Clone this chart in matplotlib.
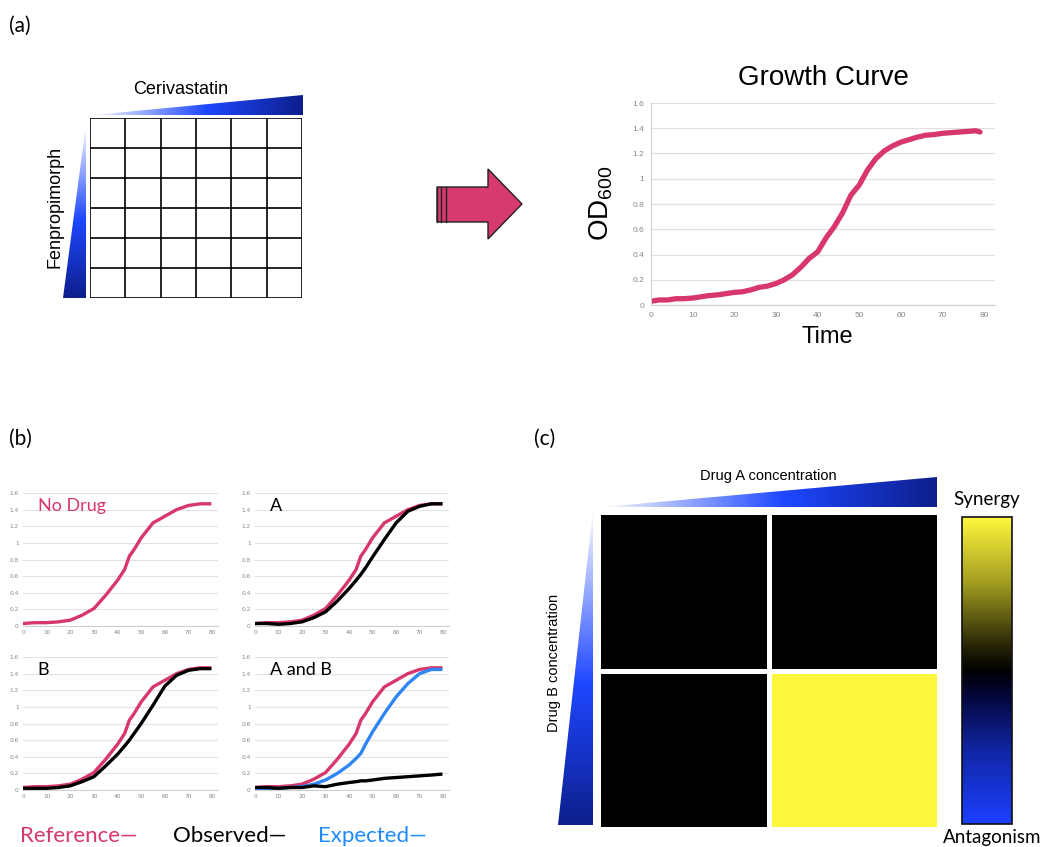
import numpy as np
import matplotlib
matplotlib.use("Agg")
import matplotlib.pyplot as plt
from matplotlib.colors import LinearSegmentedColormap
from matplotlib.patches import Polygon

plt.rcParams['mathtext.fontset'] = 'custom'
plt.rcParams['mathtext.rm'] = 'Liberation Sans'

W, H = 1044, 847

# ---------------- data ----------------
# Panel (a) growth curve
gc_time = [0, 2, 4, 6, 8, 10, 12, 14, 16, 18, 20, 22, 24, 26, 28, 30, 32, 34, 36, 38,
           40, 42, 44, 46, 47, 48, 49, 50, 52, 54, 56, 58, 60, 62, 64, 66, 68, 70, 72,
           74, 76, 78, 79]
gc_od = [0.03, 0.04, 0.04, 0.05, 0.05, 0.055, 0.065, 0.075, 0.08, 0.09, 0.10, 0.105,
         0.12, 0.14, 0.15, 0.17, 0.20, 0.24, 0.30, 0.37, 0.42, 0.53, 0.62, 0.73, 0.80,
         0.87, 0.91, 0.95, 1.07, 1.16, 1.22, 1.26, 1.29, 1.31, 1.33, 1.345, 1.35, 1.36,
         1.365, 1.37, 1.375, 1.38, 1.37]

# Panel (b) curves
b_time = [0, 5, 10, 15, 20, 25, 30, 35, 40, 43, 45, 47, 50, 55, 60, 65, 70, 75, 79]
reference = [0.03, 0.04, 0.04, 0.05, 0.07, 0.13, 0.21, 0.37, 0.55, 0.68, 0.84, 0.92,
             1.06, 1.24, 1.32, 1.40, 1.45, 1.47, 1.47]
observed_A = [0.03, 0.03, 0.02, 0.03, 0.05, 0.10, 0.17, 0.30, 0.45, 0.55, 0.62, 0.70,
              0.83, 1.04, 1.24, 1.38, 1.44, 1.47, 1.47]
observed_B = [0.02, 0.02, 0.02, 0.03, 0.05, 0.10, 0.16, 0.29, 0.43, 0.53, 0.60, 0.68,
              0.80, 1.02, 1.25, 1.38, 1.44, 1.46, 1.46]
observed_AB = [0.03, 0.03, 0.02, 0.03, 0.03, 0.05, 0.04, 0.07, 0.09, 0.10, 0.11, 0.11,
               0.12, 0.14, 0.15, 0.16, 0.17, 0.18, 0.19]
expected_AB = [0.02, 0.02, 0.02, 0.03, 0.04, 0.07, 0.12, 0.20, 0.30, 0.38, 0.44, 0.55,
               0.70, 0.92, 1.12, 1.28, 1.40, 1.45, 1.45]

panel_titles = ["No Drug", "A", "B", "A and B"]

# Panel (c) heatmap (rows top->bottom, cols left->right)
heat = np.array([[0.0, 0.0],
                 [0.0, 1.0]])

PINK = '#d8366e'
BLUE = '#2f86f2'

# ---------------- helpers ----------------
def rect(x0, y0, x1, y1):
    return [x0 / W, 1 - y1 / H, (x1 - x0) / W, (y1 - y0) / H]

fig = plt.figure(figsize=(W / 100, H / 100), dpi=100)
fig.patch.set_facecolor('white')

ov = fig.add_axes([0, 0, 1, 1], zorder=0)
ov.set_xlim(0, W)
ov.set_ylim(H, 0)
ov.axis('off')
ov.patch.set_alpha(0)

wedge_cmap = LinearSegmentedColormap.from_list(
    'wedge', [(0, (1, 1, 1)), (0.55, (0.12, 0.28, 1.0)), (1.0, (0.05, 0.12, 0.55))])

def gradient_wedge(pts, horizontal=True):
    xs = [p[0] for p in pts]
    ys = [p[1] for p in pts]
    x0, x1, y0, y1 = min(xs), max(xs), min(ys), max(ys)
    g = np.linspace(0, 1, 256)
    if horizontal:
        arr = g[np.newaxis, :]
    else:
        arr = g[:, np.newaxis]
    im = ov.imshow(arr, cmap=wedge_cmap, extent=(x0, x1, y1, y0), origin='upper',
                   aspect='auto', interpolation='bilinear', zorder=1)
    poly = Polygon(pts, closed=True, facecolor='none', edgecolor='none',
                   transform=ov.transData)
    ov.add_patch(poly)
    im.set_clip_path(poly)

SANS = 'Liberation Sans'
CAL = 'Lato'

# ---------------- panel (a) ----------------
ov.text(20, 26, '(a)', fontsize=15, family=CAL, ha='center', va='center')

gradient_wedge([(88, 115.5), (303, 95), (303, 115.5)], horizontal=True)
gradient_wedge([(86, 124), (86, 298), (63, 298)], horizontal=False)
ov.text(181, 89, 'Cerivastatin', fontsize=13, family=SANS, ha='center', va='center')
ov.text(55, 207, 'Fenpropimorph', fontsize=13, family=SANS, ha='center', va='center',
        rotation=90)

gax = fig.add_axes(rect(90, 118, 302, 298))
gax.set_xlim(0, 6)
gax.set_ylim(6, 0)
for k in range(7):
    gax.axvline(k, color='black', lw=1.2)
    gax.axhline(k, color='black', lw=1.2)
gax.set_xticks([])
gax.set_yticks([])
for s in gax.spines.values():
    s.set_visible(False)

# arrow
arrow_pts = [(437, 187), (488, 187), (488, 169), (522, 204), (488, 239), (488, 222), (437, 222)]
ov.add_patch(Polygon(arrow_pts, closed=True, facecolor='#d63a6e', edgecolor='#222222',
                     lw=1.0, zorder=2))
for xs in (437, 441, 445.5):
    ov.plot([xs, xs], [187, 222], color='#222222', lw=1.0, zorder=3)

# growth curve
ax = fig.add_axes(rect(651, 103, 995, 305))
ax.plot(gc_time, gc_od, color=PINK, lw=3.8, solid_capstyle='round')
ax.set_xlim(0, 82.6)
ax.set_ylim(0, 1.6)
ax.set_xticks(range(0, 81, 10))
ax.set_yticks(np.arange(0, 1.61, 0.2))
ax.set_yticklabels([f"{v:g}" for v in np.arange(0, 1.61, 0.2).round(1)])
ax.grid(axis='y', color='#e0e0e0', lw=0.9)
ax.set_axisbelow(True)
ax.tick_params(length=0, labelsize=6, labelcolor='#888888', pad=5)
for sp in ('top', 'right'):
    ax.spines[sp].set_visible(False)
ax.spines['left'].set_color('#d0d0d0')
ax.spines['bottom'].set_color('#d0d0d0')
for lab in ax.get_xticklabels() + ax.get_yticklabels():
    lab.set_family(SANS)
ov.text(823, 78, 'Growth Curve', fontsize=20, family=SANS, ha='center', va='center')
ov.text(827, 337, 'Time', fontsize=17, family=SANS, ha='center', va='center')
ov.text(601, 203, r'OD$_\mathregular{600}$', fontsize=20, family=SANS, ha='center',
        va='center', rotation=90)

# ---------------- panel (b) ----------------
ov.text(20, 439, '(b)', fontsize=15, family=CAL, ha='center', va='center')

boxes = [(23, 493, 218, 626), (255, 493, 449, 626), (23, 657, 218, 790), (255, 657, 449, 790)]
series = [
    [(reference, PINK)],
    [(reference, PINK), (observed_A, 'black')],
    [(reference, PINK), (observed_B, 'black')],
    [(reference, PINK), (expected_AB, BLUE), (observed_AB, 'black')],
]
for (x0, y0, x1, y1), ser, title in zip(boxes, series, panel_titles):
    a = fig.add_axes(rect(x0, y0, x1, y1))
    for vals, col in ser:
        a.plot(b_time, vals, color=col, lw=2.4)
    a.set_xlim(0, 82.5)
    a.set_ylim(0, 1.6)
    a.set_xticks(range(0, 81, 10))
    yt = np.arange(0, 1.61, 0.2).round(1)
    a.set_yticks(yt)
    a.set_yticklabels([f"{v:g}" for v in yt])
    a.grid(axis='y', color='#e3e3e3', lw=0.8)
    a.set_axisbelow(True)
    a.tick_params(length=0, labelsize=4.2, labelcolor='#888888', pad=3)
    for sp in ('top', 'right', 'left'):
        a.spines[sp].set_visible(False)
    a.spines['bottom'].set_color('#d0d0d0')
    tcol = PINK if title == 'No Drug' else 'black'
    a.text(0.075, 0.9, title, transform=a.transAxes, fontsize=13, family=CAL,
           color=tcol, ha='left', va='center')

ov.text(20, 842, 'Reference—', fontsize=16, family=CAL, color=PINK, ha='left', va='baseline')
ov.text(173, 842, 'Observed—', fontsize=16, family=CAL, color='black', ha='left', va='baseline')
ov.text(318, 842, 'Expected—', fontsize=16, family=CAL, color='#1f8bff', ha='left', va='baseline')

# ---------------- panel (c) ----------------
ov.text(545, 439, '(c)', fontsize=15, family=CAL, ha='center', va='center')

gradient_wedge([(597, 507.5), (937, 477), (937, 507.5)], horizontal=True)
gradient_wedge([(593, 510), (593, 825), (558, 825)], horizontal=False)
ov.text(768, 476, 'Drug A concentration', fontsize=10.5, family=SANS, ha='center', va='center')
ov.text(554, 663, 'Drug B concentration', fontsize=10.5, family=SANS, ha='center',
        va='center', rotation=90)

syn_cmap = LinearSegmentedColormap.from_list('syn', [
    (0.0, (0.11, 0.25, 1.0)),
    (0.25, (0.06, 0.14, 0.62)),
    (0.42, (0.01, 0.02, 0.22)),
    (0.5, (0.0, 0.0, 0.0)),
    (0.58, (0.15, 0.14, 0.02)),
    (0.78, (0.62, 0.60, 0.12)),
    (1.0, (1.0, 0.97, 0.24)),
])

hax = fig.add_axes(rect(598, 512, 939, 829))
mesh = hax.pcolormesh(np.arange(3), np.arange(3), heat, cmap=syn_cmap, vmin=-1, vmax=1,
                      edgecolors='white', linewidth=3.5)
hax.set_xlim(0, 2)
hax.set_ylim(2, 0)
hax.set_xticks([])
hax.set_yticks([])
for s in hax.spines.values():
    s.set_visible(False)

cax = fig.add_axes(rect(962, 517, 1012, 824))
cb = fig.colorbar(mesh, cax=cax)
cb.set_ticks([])
cb.outline.set_edgecolor('#111111')
cb.outline.set_linewidth(1.2)
ov.text(987, 500, 'Synergy', fontsize=13.5, family=CAL, ha='center', va='center')
ov.text(992, 837, 'Antagonism', fontsize=13.5, family=CAL, ha='center', va='center')

fig.savefig('out.png', dpi=100, facecolor='white')
